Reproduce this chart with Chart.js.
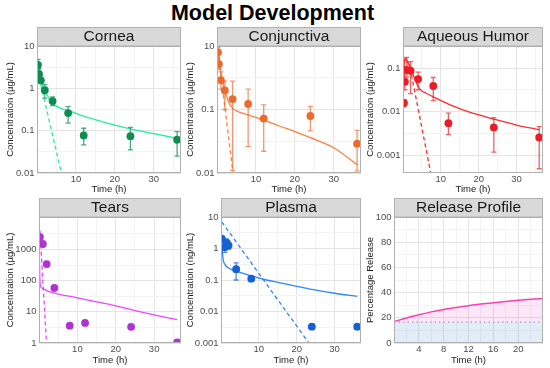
<!DOCTYPE html>
<html>
<head>
<meta charset="utf-8">
<script src="https://cdn.jsdelivr.net/npm/chart.js@4.4.1/dist/chart.umd.min.js"></script>
<style>
  body { margin: 0; background: #fff; width: 550px; height: 368px; position: relative; overflow: hidden; font-family: 'Liberation Sans', Arial, sans-serif; }
  #title { position: absolute; left: 0; top: 3px; width: 545px; text-align: center; font-weight: bold; font-size: 21.5px; line-height: 1; color: #000; }
  canvas { position: absolute; }
</style>
</head>
<body>
<div id="title">Model Development</div>
<canvas id="cornea"></canvas>
<canvas id="conj"></canvas>
<canvas id="aqueous"></canvas>
<canvas id="tears"></canvas>
<canvas id="plasma"></canvas>
<canvas id="release"></canvas>
<script>
// ---- data ----
const panelNames = ['Cornea', 'Conjunctiva', 'Aqueous Humor', 'Tears', 'Plasma', 'Release Profile'];

// time axis (h) of the concentration panels
const timeTicks = [5, 10, 15, 20, 25, 30, 35];
const timeTickLabels = ['', '10', '', '20', '', '30', ''];

// Cornea (ug/mL)
const corneaObsTime = [0.25, 0.5, 1, 2, 4, 8, 12, 24, 36];
const corneaObs = [3.6, 2.2, 1.55, 0.9, 0.5, 0.26, 0.077, 0.074, 0.061];
const corneaLow = [2.9, 1.8, 1.3, 0.59, 0.39, 0.15, 0.046, 0.035, 0.025];
const corneaHigh = [4.8, 2.9, 2.0, 1.22, 0.63, 0.37, 0.114, 0.119, 0.095];
const corneaFitTime = [0, 0.05, 0.15, 0.3, 0.5, 1, 2, 3, 4, 5, 6, 8, 12, 16, 20, 24, 30, 36];
const corneaFit = [0.001, 1.5, 2.5, 2.4, 2.0, 1.45, 0.9, 0.6, 0.45, 0.38, 0.34, 0.3, 0.22, 0.17, 0.135, 0.11, 0.085, 0.066];
const corneaPopTime = [0.15, 6.5];
const corneaPop = [2.6, 0.008];
const corneaTicks = [0.01, 0.0316, 0.1, 0.316, 1, 3.16, 10];
const corneaTickLabels = ['0.01', '', '0.1', '', '1', '', '10'];

// Conjunctiva (ug/mL)
const conjObsTime = [0.25, 0.5, 1, 2, 4, 8, 12, 24, 36];
const conjObs = [0.8, 0.52, 0.29, 0.2, 0.146, 0.122, 0.072, 0.079, 0.029];
const conjLow = [0.62, 0.43, 0.21, 0.1, 0.011, 0.026, 0.022, 0.046, 0.0108];
const conjHigh = [0.95, 0.785, 0.39, 0.28, 0.28, 0.21, 0.118, 0.112, 0.047];
const conjFitTime = [0, 0.05, 0.2, 0.5, 1, 2, 3, 4, 5, 6, 8, 12, 16, 20, 24, 30, 36];
const conjFit = [0.001, 0.6, 0.9, 0.7, 0.38, 0.2, 0.13, 0.105, 0.095, 0.09, 0.082, 0.068, 0.055, 0.045, 0.036, 0.025, 0.0135];
const conjPopTime = [0.1, 4.3];
const conjPop = [1.0, 0.008];
const conjTicks = [0.01, 0.0316, 0.1, 0.316, 1];
const conjTickLabels = ['0.01', '', '0.1', '', '10'];

// Aqueous humor (ug/mL)
const aqObsTime = [0.25, 0.5, 1, 2, 4, 8, 12, 24, 36];
const aqObs = [0.016, 0.049, 0.09, 0.087, 0.056, 0.039, 0.0055, 0.0044, 0.0026];
const aqLow = [0.013, 0.032, 0.062, 0.026, 0.032, 0.018, 0.003, 0.0012, 0.0005];
const aqHigh = [0.019, 0.11, 0.175, 0.14, 0.081, 0.061, 0.0093, 0.0074, 0.0046];
const aqFitTime = [0, 0.1, 0.3, 0.6, 1, 2, 3, 4, 5, 6, 8, 12, 16, 20, 24, 30, 36];
const aqFit = [0.0001, 0.03, 0.12, 0.17, 0.15, 0.1, 0.06, 0.038, 0.03, 0.027, 0.022, 0.015, 0.011, 0.0085, 0.0068, 0.005, 0.0039];
const aqPopTime = [0.1, 0.3, 0.6, 1.2, 1.8, 7.6];
const aqPop = [0.03, 0.12, 0.16, 0.14, 0.11, 0.0003];
const aqTicks = [0.001, 0.00316, 0.01, 0.0316, 0.1, 0.316];
const aqTickLabels = ['0.001', '', '0.01', '', '0.1', ''];

// Tears (ug/mL)
const tearsObsTime = [0.25, 1, 2, 4, 8, 12, 24, 36];
const tearsObs = [2500, 1500, 340, 58, 3.6, 4.4, 3.3, 1.05];
const tearsFitTime = [0.02, 0.15, 0.35, 1, 2, 4, 7, 10, 15, 20, 25, 30, 36];
const tearsFit = [7000, 300, 68, 55, 48, 40, 33, 28, 21, 15.5, 11, 8, 5.6];
const tearsPopTime = [0.25, 2.0];
const tearsPop = [4000, 0.8];
const tearsTicks = [1, 3.16, 10, 31.6, 100, 316, 1000, 3162];
const tearsTickLabels = ['1', '', '10', '', '100', '', '1000', ''];

// Plasma (ng/mL)
const plasmaObsTime = [0.25, 1, 1.5, 2, 4, 8, 24, 36];
const plasmaObs = [2.0, 1.1, 1.5, 1.25, 0.22, 0.11, 0.0033, 0.0033];
const plasmaLow = [1.6, 0.75, 1.1, 0.95, 0.1, null, null, null];
const plasmaHigh = [2.5, 1.6, 2.0, 1.6, 0.35, null, null, null];
const plasmaFitTime = [0, 0.05, 0.2, 0.5, 1, 2, 4, 8, 12, 16, 20, 24, 30, 36];
const plasmaFit = [0.0001, 5, 2, 0.5, 0.32, 0.24, 0.19, 0.135, 0.1, 0.08, 0.063, 0.05, 0.038, 0.03];
const plasmaPopTime = [0.2, 23.5];
const plasmaPop = [7, 0.0009];
const plasmaTicks = [0.001, 0.00316, 0.01, 0.0316, 0.1, 0.316, 1, 3.16, 10];
const plasmaTickLabels = ['0.001', '', '0.01', '', '0.1', '', '1', '', '10'];

// Release profile (%)
const releaseTime = [0, 2, 4, 6, 8, 10, 12, 14, 16, 18, 20, 22, 24];
const releasePct = [17, 19.9, 22.4, 24.7, 26.6, 28.2, 29.6, 30.9, 32, 33, 33.9, 34.7, 35.4];
const releaseBase = 16.5;
const releaseTimeTicks = [2, 4, 6, 8, 10, 12, 14, 16, 18, 20, 22];
const releaseTimeLabels = ['', '4', '', '8', '', '12', '', '16', '', '20', ''];
const releaseTicks = [0, 10, 20, 30, 40, 50, 60, 70, 80, 90, 100];
const releaseTickLabels = ['0', '', '20', '', '40', '', '60', '', '80', '', '100'];

// ---- drawing ----
Chart.defaults.font.family = "'Liberation Sans', Arial, sans-serif";

const xy = (xs, ys) => xs.map((x, i) => ({x: x, y: ys[i]}));

function stripPlugin(text) {
  return {
    id: 'strip',
    beforeDraw(chart) {
      const {ctx, chartArea: a} = chart;
      ctx.save();
      ctx.fillStyle = '#d9d9d9';
      ctx.fillRect(a.left, a.top - 19, a.right - a.left, 19);
      ctx.strokeStyle = '#b0b0b0';
      ctx.lineWidth = 1;
      ctx.strokeRect(a.left + 0.5, a.top - 18.5, a.right - a.left - 1, 18.5);
      ctx.fillStyle = '#1a1a1a';
      ctx.font = "15.5px 'Liberation Sans', Arial, sans-serif";
      ctx.textAlign = 'center';
      ctx.textBaseline = 'middle';
      ctx.fillText(text, (a.left + a.right) / 2, a.top - 9);
      ctx.restore();
    },
    afterDraw(chart) {
      const {ctx, chartArea: a} = chart;
      ctx.save();
      ctx.strokeStyle = '#b0b0b0';
      ctx.lineWidth = 1;
      ctx.strokeRect(a.left + 0.5, a.top + 0.5, a.right - a.left - 1, a.bottom - a.top - 1);
      ctx.restore();
    }
  };
}

function errorBarPlugin(time, low, high, color) {
  return {
    id: 'errorBars',
    beforeDatasetDraw(chart, args) {
      if (args.index !== 0 || !time) return;
      const {ctx, chartArea: a, scales} = chart;
      ctx.save();
      ctx.beginPath();
      ctx.rect(a.left, a.top, a.right - a.left, a.bottom - a.top);
      ctx.clip();
      ctx.strokeStyle = color;
      ctx.lineWidth = 1.3;
      time.forEach((t, i) => {
        if (low[i] == null) return;
        const px = scales.x.getPixelForValue(t);
        const y1 = scales.y.getPixelForValue(low[i]);
        const y2 = scales.y.getPixelForValue(high[i]);
        ctx.beginPath();
        ctx.moveTo(px, y1); ctx.lineTo(px, y2);
        ctx.moveTo(px - 2.5, y1); ctx.lineTo(px + 2.5, y1);
        ctx.moveTo(px - 2.5, y2); ctx.lineTo(px + 2.5, y2);
        ctx.stroke();
      });
      ctx.restore();
    }
  };
}

const gridColor = ctx => (ctx.tick && ctx.tick.label === '') ? '#f3f3f3' : '#e4e4e4';

function makePanel(id, p) {
  const cv = document.getElementById(id);
  cv.width = p.canvas.w;
  cv.height = p.canvas.h;
  cv.style.left = p.canvas.x + 'px';
  cv.style.top = p.canvas.y + 'px';
  const a = p.area;
  new Chart(cv, {
    type: 'scatter',
    data: {datasets: p.datasets},
    options: {
      responsive: false,
      animation: false,
      devicePixelRatio: 1,
      layout: {padding: {left: 0, top: a.t - p.canvas.y, right: p.canvas.x + p.canvas.w - a.r, bottom: 0}},
      plugins: {legend: {display: false}, tooltip: {enabled: false}},
      scales: {
        x: {
          type: 'linear', min: 0, max: p.xMax,
          afterBuildTicks: s => { s.ticks = p.xTicks.map(v => ({value: v})); },
          afterFit: s => { s.height = p.canvas.y + p.canvas.h - a.b; },
          ticks: {callback: (v, i) => p.xLabels[i], font: {size: 9.5}, color: '#4d4d4d', padding: 1, maxRotation: 0, autoSkip: false},
          grid: {color: gridColor, drawTicks: false},
          border: {display: false},
          title: {display: true, text: 'Time (h)', font: {size: 9.5}, color: '#1a1a1a', padding: {top: 0, bottom: p.xTitlePad}}
        },
        y: {
          type: p.yType, min: p.yMin, max: p.yMax,
          afterBuildTicks: s => { s.ticks = p.yTicks.map(v => ({value: v})); },
          afterFit: s => { s.width = a.l - p.canvas.x; },
          ticks: {callback: (v, i) => p.yLabels[i], font: {size: 9.5}, color: '#4d4d4d', padding: 2.5, autoSkip: false},
          grid: {color: gridColor, drawTicks: false},
          border: {display: false},
          title: {display: true, text: p.yTitle, font: {size: 9.5}, color: '#1a1a1a', padding: {top: 4.3, bottom: 0}}
        }
      }
    },
    plugins: [stripPlugin(p.name), errorBarPlugin(p.errTime, p.errLow, p.errHigh, p.errColor)]
  });
}

function concSets(obsT, obs, fitT, fit, popT, pop, ptColor, lineColor) {
  return [
    {data: xy(obsT, obs), pointRadius: 3.9, pointBackgroundColor: ptColor, pointBorderWidth: 0, showLine: false},
    {data: xy(fitT, fit), showLine: true, borderColor: lineColor, borderWidth: 1.3, pointRadius: 0, cubicInterpolationMode: 'monotone'},
    {data: xy(popT, pop), showLine: true, borderColor: lineColor, borderWidth: 1.3, borderDash: [4, 3], pointRadius: 0}
  ];
}

const topCanvas = {y: 24, h: 172};
const botCanvas = {y: 194, h: 174};

makePanel('cornea', {
  name: panelNames[0], canvas: {x: 0, w: 186, ...topCanvas}, area: {l: 37, r: 181, t: 46, b: 173},
  xMax: 37, xTicks: timeTicks, xLabels: timeTickLabels, xTitlePad: 0.8,
  yType: 'logarithmic', yMin: 0.01, yMax: 10, yTicks: corneaTicks, yLabels: corneaTickLabels,
  yTitle: 'Concentration (\u00b5g/mL)',
  datasets: concSets(corneaObsTime, corneaObs, corneaFitTime, corneaFit, corneaPopTime, corneaPop, '#0e8c52', '#22f0a2'),
  errTime: corneaObsTime, errLow: corneaLow, errHigh: corneaHigh, errColor: 'rgba(14,140,82,0.75)'
});

makePanel('conj', {
  name: panelNames[1], canvas: {x: 180, w: 186, ...topCanvas}, area: {l: 217, r: 361, t: 46, b: 173},
  xMax: 37, xTicks: timeTicks, xLabels: timeTickLabels, xTitlePad: 0.8,
  yType: 'logarithmic', yMin: 0.01, yMax: 1, yTicks: conjTicks, yLabels: conjTickLabels,
  yTitle: 'Concentration (\u00b5g/mL)',
  datasets: concSets(conjObsTime, conjObs, conjFitTime, conjFit, conjPopTime, conjPop, '#ee6a2c', '#ff8040'),
  errTime: conjObsTime, errLow: conjLow, errHigh: conjHigh, errColor: 'rgba(238,106,44,0.7)'
});

makePanel('aqueous', {
  name: panelNames[2], canvas: {x: 360, w: 190, ...topCanvas}, area: {l: 403, r: 543, t: 46, b: 173},
  xMax: 37, xTicks: timeTicks, xLabels: timeTickLabels, xTitlePad: 0.8,
  yType: 'logarithmic', yMin: 0.0004, yMax: 0.32, yTicks: aqTicks, yLabels: aqTickLabels,
  yTitle: 'Concentration (\u00b5g/mL)',
  datasets: concSets(aqObsTime, aqObs, aqFitTime, aqFit, aqPopTime, aqPop, '#ec1c24', '#ff2d2d'),
  errTime: aqObsTime, errLow: aqLow, errHigh: aqHigh, errColor: 'rgba(236,28,36,0.7)'
});

makePanel('tears', {
  name: panelNames[3], canvas: {x: 0, w: 186, ...botCanvas}, area: {l: 39, r: 181, t: 217, b: 343},
  xMax: 37, xTicks: timeTicks, xLabels: timeTickLabels, xTitlePad: 2.3,
  yType: 'logarithmic', yMin: 1, yMax: 11000, yTicks: tearsTicks, yLabels: tearsTickLabels,
  yTitle: 'Concentration (\u00b5g/mL)',
  datasets: concSets(tearsObsTime, tearsObs, tearsFitTime, tearsFit, tearsPopTime, tearsPop, '#b032d0', '#ee45ff')
});

makePanel('plasma', {
  name: panelNames[4], canvas: {x: 180, w: 186, ...botCanvas}, area: {l: 221, r: 361, t: 217, b: 343},
  xMax: 37, xTicks: timeTicks, xLabels: timeTickLabels, xTitlePad: 2.3,
  yType: 'logarithmic', yMin: 0.001, yMax: 10, yTicks: plasmaTicks, yLabels: plasmaTickLabels,
  yTitle: 'Concentration (ng/mL)',
  datasets: concSets(plasmaObsTime, plasmaObs, plasmaFitTime, plasmaFit, plasmaPopTime, plasmaPop, '#1560d4', '#2f86f6'),
  errTime: plasmaObsTime, errLow: plasmaLow, errHigh: plasmaHigh, errColor: 'rgba(21,96,212,0.75)'
});

makePanel('release', {
  name: panelNames[5], canvas: {x: 360, w: 190, ...botCanvas}, area: {l: 394, r: 543, t: 217, b: 343},
  xMax: 24, xTicks: releaseTimeTicks, xLabels: releaseTimeLabels, xTitlePad: 2.3,
  yType: 'linear', yMin: 0, yMax: 100, yTicks: releaseTicks, yLabels: releaseTickLabels,
  yTitle: 'Percentage Release',
  datasets: [
    {data: xy([0, 24], [releaseBase, releaseBase]), showLine: true, borderColor: '#a796b5', borderWidth: 1.2, borderDash: [1.5, 3],
     pointRadius: 0, fill: 'origin', backgroundColor: 'rgba(68,135,208,0.15)'},
    {data: xy(releaseTime, releasePct), showLine: true, borderColor: '#ff3db4', borderWidth: 1.5, pointRadius: 0,
     cubicInterpolationMode: 'monotone', fill: {value: releaseBase}, backgroundColor: 'rgba(238,47,188,0.12)'}
  ]
});
</script>
</body>
</html>
